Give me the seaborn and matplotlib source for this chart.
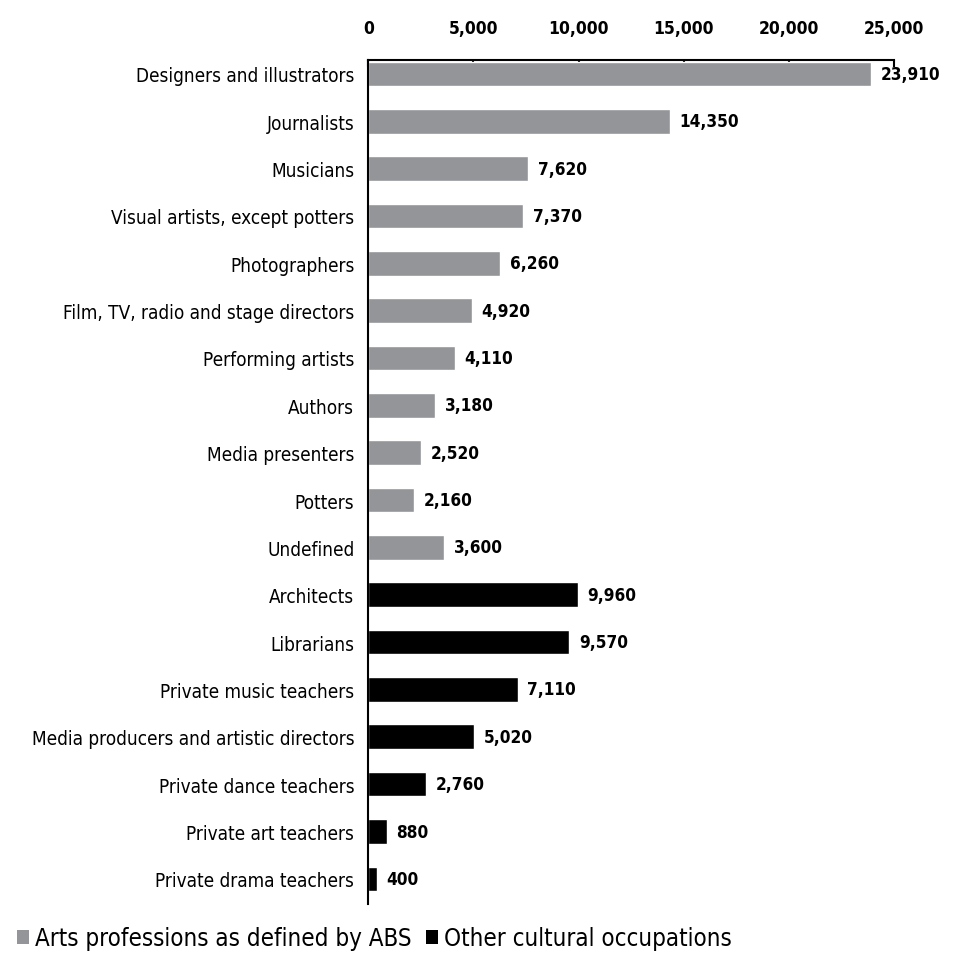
import matplotlib
matplotlib.use("Agg")
import matplotlib.pyplot as plt
import seaborn as sns
import pandas as pd
from matplotlib.patches import Patch

occupations = [
    "Designers and illustrators", "Journalists", "Musicians",
    "Visual artists, except potters", "Photographers",
    "Film, TV, radio and stage directors", "Performing artists", "Authors",
    "Media presenters", "Potters", "Undefined",
    "Architects", "Librarians", "Private music teachers",
    "Media producers and artistic directors", "Private dance teachers",
    "Private art teachers", "Private drama teachers",
]
workers = [23910, 14350, 7620, 7370, 6260, 4920, 4110, 3180, 2520, 2160, 3600,
           9960, 9570, 7110, 5020, 2760, 880, 400]
groups = ["Arts professions as defined by ABS"] * 11 + ["Other cultural occupations"] * 7
group_names = ["Arts professions as defined by ABS", "Other cultural occupations"]
group_colors = ["#939598", "#000000"]
x_ticks = [0, 5000, 10000, 15000, 20000, 25000]

df = pd.DataFrame({"occupation": occupations, "workers": workers, "group": groups})

sns.set_theme(style="white")
plt.rcParams["font.family"] = ["DejaVu Sans"]
plt.rcParams["text.color"] = "black"
plt.rcParams["xtick.color"] = "black"
plt.rcParams["ytick.color"] = "black"

fig = plt.figure(figsize=(9.54, 9.54), dpi=100)
ax = fig.add_axes([0.386, 0.0514, 0.551, 0.885])

sns.barplot(data=df, y="occupation", x="workers", hue="group",
            hue_order=group_names, palette=group_colors, order=occupations,
            dodge=False, width=0.52, orient="h", legend=False, ax=ax,
            saturation=1)

ax.set_xlim(0, 25000)
ax.set_ylim(17.53, -0.3)
ax.xaxis.tick_top()
ax.set_xticks(x_ticks)
ax.set_xticklabels([f"{t:,}" for t in x_ticks], fontsize=12.5, fontweight="bold",
                   fontstretch="condensed")
ax.tick_params(axis="x", direction="in", length=5, width=1.5, color="black",
               pad=16, top=True, bottom=False)
ax.tick_params(axis="y", length=0, pad=10)
for lbl in ax.get_yticklabels():
    lbl.set_fontsize(13.6)
    lbl.set_fontstretch("condensed")
ax.set_xlabel("")
ax.set_ylabel("")

for side in ["right", "bottom"]:
    ax.spines[side].set_visible(False)
for side in ["top", "left"]:
    ax.spines[side].set_visible(True)
    ax.spines[side].set_color("black")
    ax.spines[side].set_linewidth(1.5)

for container in ax.containers:
    labels = [f"{v:,.0f}" if v == v and v > 0 else "" for v in container.datavalues]
    texts = ax.bar_label(container, labels=labels, padding=7, fontsize=12.3,
                         fontweight="bold", color="black")
    for t in texts:
        t.set_fontstretch("condensed")

handles = [Patch(facecolor=c, edgecolor="none") for c in group_colors]
leg = fig.legend(handles, group_names, loc="lower left",
                 bbox_to_anchor=(-0.005, -0.02), ncol=2, frameon=False,
                 fontsize=17.3, handlelength=0.5, handleheight=0.5,
                 handletextpad=0.25, columnspacing=0.6)
for t in leg.get_texts():
    t.set_fontstretch("condensed")

fig.savefig("out.png", dpi=100)
